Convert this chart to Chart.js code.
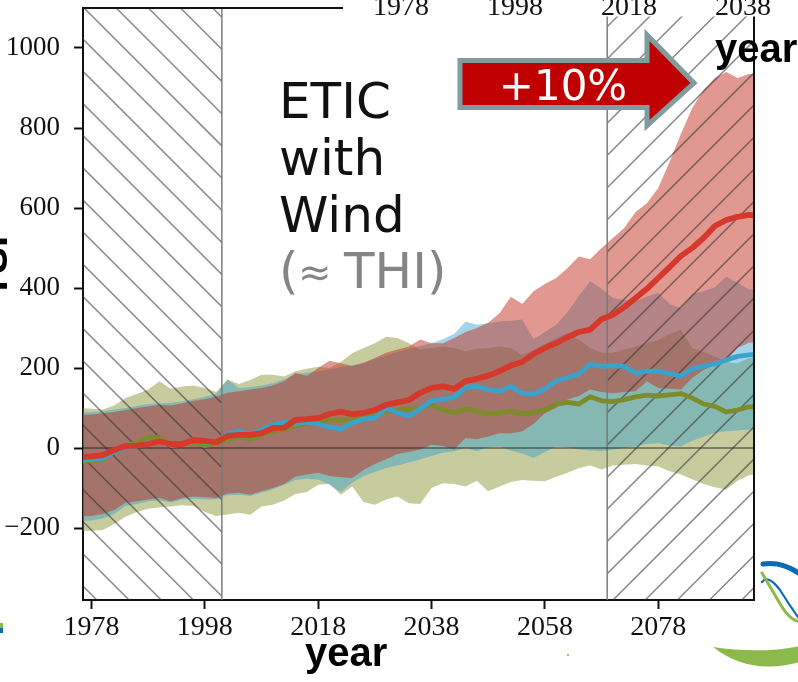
<!DOCTYPE html>
<html>
<head>
<meta charset="utf-8">
<script src="https://cdn.jsdelivr.net/npm/chart.js@4/dist/chart.umd.min.js"></script>
<style>
  html, body { margin: 0; padding: 0; background: #fff; overflow: hidden; }
  canvas { display: block; }
</style>
</head>
<body>
<canvas id="c" width="798" height="682"></canvas>
<script>
// Yearly axis positions of the ensemble statistics (every second year)
const years = [1976,1978,1980,1982,1984,1986,1988,1990,1992,1994,
               1996,1998,2000,2002,2004,2006,2008,2010,2012,2014,
               2016,2018,2020,2022,2024,2026,2028,2030,2032,2034,
               2036,2038,2040,2042,2044,2046,2048,2050,2052,2054,
               2056,2058,2060,2062,2064,2066,2068,2070,2072,2074,
               2076,2078,2080,2082,2084,2086,2088,2090,2092,2094,
               2096];

// Ensemble means
const redMean = [-23,-21,-18,-5,5,6,10,17,10,10,
                 20,18,14,30,33,33,37,50,51,70,
                 72,75,85,91,84,88,95,108,114,120,
                 138,150,154,148,167,173,181,192,206,215,
                 235,250,262,277,290,296,322,333,352,375,
                 398,425,452,480,500,525,555,570,578,583,
                 580];
const blueMean = [-30,-29,-26,-10,2,5,12,17,9,10,
                  21,15,12,35,42,34,45,58,64,61,
                  65,60,52,48,63,72,75,100,88,80,
                  98,118,122,126,152,154,146,142,154,137,
                  135,148,168,176,185,210,204,206,204,187,
                  192,192,186,180,198,205,210,220,229,233,
                  235];
const greenMean = [-34,-32,-28,-8,6,12,27,26,6,10,
                   14,6,12,20,28,22,32,42,48,55,
                   62,66,70,70,72,78,84,91,94,98,
                   100,108,95,88,98,92,84,88,92,86,
                   88,96,110,114,110,128,118,116,121,128,
                   132,130,133,136,125,110,104,90,95,103,
                   104];

// Ensemble spread (upper / lower envelopes)
const redUpper = [83,84,87,90,95,100,104,108,106,112,
                  118,122,129,138,142,146,150,156,167,188,
                  180,200,218,212,205,213,225,238,246,254,
                  271,262,262,275,290,300,313,337,378,360,
                  392,410,425,450,479,472,500,525,550,590,
                  612,650,715,785,850,895,925,940,925,935,
                  933];
const redLower = [-171,-170,-165,-155,-137,-133,-129,-125,-133,-125,
                  -121,-123,-125,-114,-112,-117,-108,-100,-90,-71,
                  -66,-62,-70,-73,-75,-55,-40,-28,-15,-10,
                  -4,8,5,-4,25,22,29,37,36,42,
                  60,87,100,121,130,146,140,137,140,142,
                  167,150,148,146,175,195,208,220,250,263,
                  265];
const blueUpper = [88,90,92,96,100,105,110,112,113,117,
                   122,128,135,171,150,152,156,162,172,185,
                   188,192,196,202,207,212,222,232,240,248,
                   255,262,272,285,316,308,312,316,318,321,
                   272,290,308,340,380,417,398,375,370,367,
                   378,388,360,350,385,392,402,428,413,396,
                   395];
const blueLower = [-183,-181,-176,-165,-145,-140,-133,-131,-136,-129,
                   -127,-129,-129,-118,-117,-120,-112,-104,-92,-80,
                   -77,-79,-92,-110,-87,-70,-60,-50,-44,-36,
                   -29,-20,-12,-8,0,-8,2,4,-6,-14,
                   -25,-10,4,2,-4,-6,-8,-4,0,4,
                   10,12,6,4,18,28,38,42,44,46,
                   46];
const greenUpper = [100,98,96,106,125,135,146,167,148,154,
                    156,150,140,171,160,170,183,183,179,192,
                    198,203,200,215,237,250,262,278,275,262,
                    246,250,254,250,242,248,250,254,250,233,
                    245,260,275,287,271,250,238,238,246,254,
                    262,270,285,296,250,240,229,215,212,225,
                    229];
const greenLower = [-208,-207,-205,-190,-172,-160,-152,-148,-146,-143,
                    -145,-160,-170,-166,-162,-167,-146,-142,-131,-115,
                    -110,-92,-90,-117,-96,-135,-142,-129,-121,-138,
                    -140,-100,-88,-90,-96,-82,-108,-96,-85,-80,
                    -82,-83,-72,-62,-50,-44,-54,-44,-42,-40,
                    -44,-46,-58,-66,-78,-90,-98,-104,-82,-68,
                    -66];

// Axis ticks and shaded reference periods
const xTicks = [1978, 1998, 2018, 2038, 2058, 2078];
const yTicks = [-200, 0, 200, 400, 600, 800, 1000];
const topTickLabels = ['1978', '1998', '2018', '2038'];
const hatchedPeriods = [[1976.5, 2001, -1], [2069, 2094.9, 1]];
const textLines = ['ETIC', 'with', 'Wind'];
const noteParts = ['(', '\u2248', 'THI)'];
const arrowLabel = '+10%';
const axisTitle = 'year';
const yTitle = 'TSI';

const pts = vals => years.map((yr, i) => ({ x: yr, y: vals[i] }));

const lineDs = (vals, color, width) => ({
  data: pts(vals), borderColor: color, borderWidth: width, pointRadius: 0,
  fill: false, tension: 0, clip: 0, borderJoinStyle: 'round', borderCapStyle: 'butt'
});
const edgeDs = (vals, fill, bg) => ({
  data: pts(vals), borderWidth: 0, borderColor: 'rgba(0,0,0,0)', pointRadius: 0,
  fill: fill, backgroundColor: bg, tension: 0, clip: 0
});

const RED_BAND = 'rgba(195,50,35,0.5)';
const BLUE_BAND = 'rgba(55,160,205,0.45)';
const GREEN_BAND = 'rgba(128,142,40,0.45)';

// Index 0 is painted last (on top)
const datasets = [
  lineDs(redMean, '#d6392b', 5.8),
  lineDs(blueMean, '#3aa2cc', 4.8),
  lineDs(greenMean, '#7c8c2a', 4.8),
  edgeDs(redUpper, '+1', RED_BAND),
  edgeDs(redLower, false, RED_BAND),
  edgeDs(blueUpper, '+1', BLUE_BAND),
  edgeDs(blueLower, false, BLUE_BAND),
  edgeDs(greenUpper, '+1', GREEN_BAND),
  edgeDs(greenLower, false, GREEN_BAND)
];

function hatch(ctx, x0, x1, y0, y1, dir) {
  const step = 32.17;
  ctx.save();
  ctx.beginPath();
  ctx.rect(x0, y0, x1 - x0, y1 - y0);
  ctx.clip();
  ctx.beginPath();
  if (dir < 0) {
    // "\" diagonals: x - y = c
    for (let c = 76 - step * 40; c < 1000; c += step) {
      ctx.moveTo(c + y0, y0);
      ctx.lineTo(c + y1, y1);
    }
  } else {
    // "/" diagonals: x + y = c
    for (let c = 1213 - step * 40; c < 2200; c += step) {
      ctx.moveTo(c - y0, y0);
      ctx.lineTo(c - y1, y1);
    }
  }
  ctx.strokeStyle = 'rgba(50,50,50,0.55)';
  ctx.lineWidth = 1.6;
  ctx.stroke();
  ctx.restore();
}

const decor = {
  id: 'decor',
  beforeDatasetDraw(chart, args) {
    if (args.index !== 2) return;
    const { ctx, chartArea: a, scales: { x, y } } = chart;
    // hatched periods with their gray edges
    hatchedPeriods.forEach(([from, to, dir]) => {
      const px0 = Math.max(a.left, x.getPixelForValue(from));
      const px1 = Math.min(a.right, x.getPixelForValue(to));
      hatch(ctx, px0, px1, a.top, a.bottom, dir);
      ctx.save();
      ctx.strokeStyle = 'rgba(120,120,120,0.9)';
      ctx.lineWidth = 1.6;
      ctx.beginPath();
      const edge = dir < 0 ? px1 : px0;
      ctx.moveTo(edge, a.top);
      ctx.lineTo(edge, a.bottom);
      ctx.stroke();
      ctx.restore();
    });
    // zero reference line
    const y0 = y.getPixelForValue(0);
    ctx.save();
    ctx.strokeStyle = 'rgba(30,30,30,0.6)';
    ctx.lineWidth = 1.4;
    ctx.beginPath();
    ctx.moveTo(a.left, y0);
    ctx.lineTo(a.right, y0);
    ctx.stroke();
    ctx.restore();
  },
  afterDraw(chart) {
    const { ctx, chartArea: a } = chart;
    ctx.save();
    // remaining frame sides
    ctx.strokeStyle = '#111';
    ctx.lineWidth = 2;
    ctx.beginPath();
    ctx.moveTo(a.left, a.top);
    ctx.lineTo(a.right, a.top);
    ctx.lineTo(a.right, a.bottom);
    ctx.stroke();

    // strip with the upper year ticks
    ctx.fillStyle = '#fff';
    ctx.fillRect(343, 0, 455, 16.5);
    ctx.fillStyle = '#111';
    ctx.font = '28px "Liberation Serif"';
    ctx.textAlign = 'center';
    ctx.textBaseline = 'alphabetic';
    topTickLabels.forEach((t, i) => ctx.fillText(t, 401 + i * 114, 15));

    // y axis title
    ctx.save();
    ctx.translate(7, 267);
    ctx.rotate(-Math.PI / 2);
    ctx.font = 'bold 40px "Liberation Sans"';
    ctx.textAlign = 'center';
    ctx.fillStyle = '#000';
    ctx.fillText(yTitle, 0, 0);
    ctx.restore();

    // axis titles
    ctx.font = 'bold 40px "Liberation Sans"';
    ctx.textAlign = 'left';
    ctx.fillStyle = '#000';
    ctx.fillText(axisTitle, 305, 666);
    ctx.fillText(axisTitle, 715, 62);

    // index description
    ctx.font = '50px "DejaVu Sans"';
    ctx.fillStyle = '#111';
    textLines.forEach((t, i) => ctx.fillText(t, 279, 118 + i * 56.8));
    const noteY = 118 + 3 * 56.8;
    ctx.fillStyle = '#858585';
    ctx.fillText(noteParts[0], 279, noteY);
    ctx.fillText(noteParts[2], 344, noteY);
    ctx.font = '40px "DejaVu Sans"';
    ctx.fillText(noteParts[1], 298, noteY - 2);

    // red arrow
    ctx.beginPath();
    ctx.moveTo(460, 60.5);
    ctx.lineTo(647, 60.5);
    ctx.lineTo(647, 35);
    ctx.lineTo(694, 83);
    ctx.lineTo(647, 125.5);
    ctx.lineTo(647, 107.5);
    ctx.lineTo(460, 107.5);
    ctx.closePath();
    ctx.fillStyle = '#c00000';
    ctx.fill();
    ctx.lineWidth = 5;
    ctx.lineJoin = 'miter';
    ctx.strokeStyle = '#819c9e';
    ctx.stroke();
    ctx.fillStyle = '#fff';
    ctx.font = '42px "DejaVu Sans"';
    ctx.textAlign = 'center';
    ctx.fillText(arrowLabel, 563, 100);

    // logo fragments
    ctx.lineCap = 'round';
    ctx.strokeStyle = '#0b6cb6';
    ctx.lineWidth = 5;
    ctx.beginPath();
    ctx.moveTo(763, 564);
    ctx.quadraticCurveTo(782, 561, 800, 574);
    ctx.stroke();
    ctx.lineWidth = 2.2;
    ctx.beginPath();
    ctx.moveTo(762, 582);
    ctx.quadraticCurveTo(768, 574, 780, 590);
    ctx.quadraticCurveTo(790, 606, 800, 620);
    ctx.stroke();
    ctx.strokeStyle = '#8cba4a';
    ctx.lineWidth = 3;
    ctx.beginPath();
    ctx.moveTo(762, 573);
    ctx.quadraticCurveTo(772, 590, 782, 607);
    ctx.quadraticCurveTo(790, 620, 800, 622);
    ctx.stroke();
    ctx.fillStyle = '#8cba4a';
    ctx.beginPath();
    ctx.moveTo(713, 647);
    ctx.quadraticCurveTo(760, 654, 800, 646);
    ctx.lineTo(800, 662);
    ctx.quadraticCurveTo(750, 676, 713, 647);
    ctx.closePath();
    ctx.fill();
    ctx.fillRect(0, 623, 3, 5);
    ctx.fillStyle = '#0b6cb6';
    ctx.fillRect(0, 628, 3, 5);
    ctx.fillStyle = '#9cc060';
    ctx.fillRect(567, 654, 2, 2);
    ctx.restore();
  }
};

new Chart(document.getElementById('c'), {
  type: 'line',
  data: { datasets },
  options: {
    responsive: false,
    devicePixelRatio: 1,
    animation: false,
    events: [],
    layout: { padding: { left: 0, top: 8, right: 44, bottom: 0 } },
    plugins: { legend: { display: false }, tooltip: { enabled: false }, filler: { propagate: false } },
    scales: {
      x: {
        type: 'linear', min: 1976.5, max: 2094.9,
        afterBuildTicks: s => { s.ticks = xTicks.map(v => ({ value: v })); },
        afterFit: s => { s.height = 82; s.paddingLeft = 0; s.paddingRight = 0; },
        ticks: {
          font: { family: 'Liberation Serif', size: 28 }, color: '#111',
          padding: 2, maxRotation: 0, autoSkip: false, callback: v => String(v)
        },
        grid: { drawOnChartArea: false, tickLength: 9, tickWidth: 2, tickColor: '#111' },
        border: { color: '#111', width: 2 }
      },
      y: {
        type: 'linear', min: -380, max: 1100,
        afterBuildTicks: s => { s.ticks = yTicks.map(v => ({ value: v })); },
        afterFit: s => { s.width = 83; s.paddingTop = 0; s.paddingBottom = 0; },
        ticks: {
          font: { family: 'Liberation Serif', size: 27 }, color: '#111',
          padding: 14, callback: v => (v < 0 ? '\u2212' + Math.abs(v) : String(v))
        },
        grid: { drawOnChartArea: false, tickLength: 9, tickWidth: 2, tickColor: '#111' },
        border: { color: '#111', width: 2 }
      }
    }
  },
  plugins: [decor]
});
</script>
</body>
</html>
